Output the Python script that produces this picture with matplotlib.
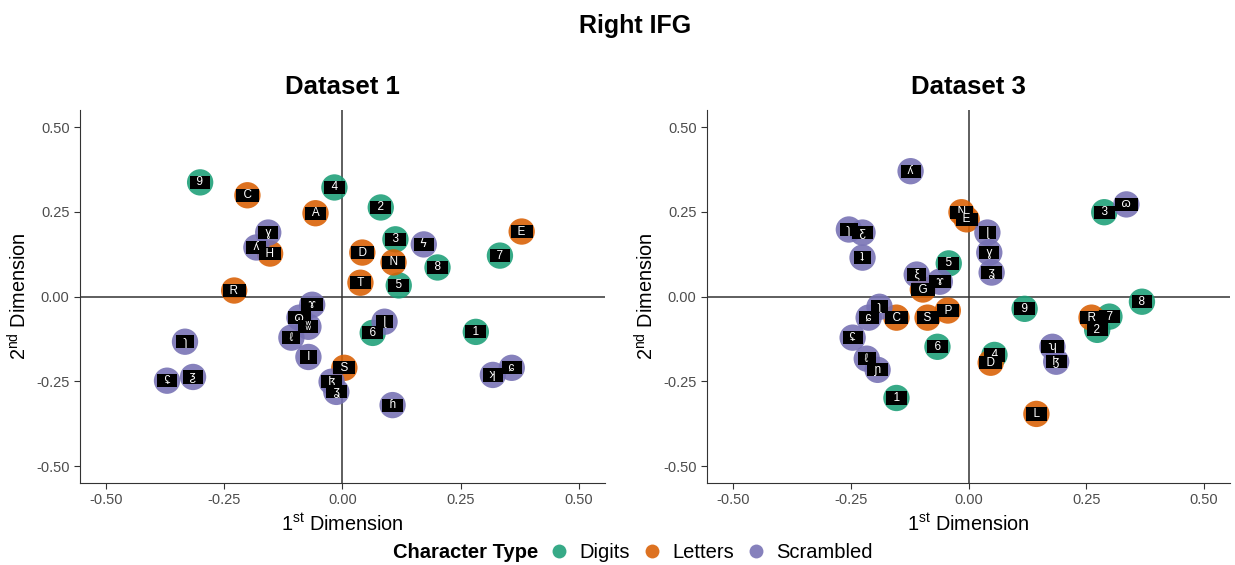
import matplotlib
matplotlib.use('Agg')
import matplotlib.pyplot as plt
from matplotlib.lines import Line2D

plt.rcParams['font.family'] = ['Liberation Sans', 'DejaVu Sans']
plt.rcParams['mathtext.fontset'] = 'custom'
plt.rcParams['mathtext.rm'] = 'Liberation Sans'

####################################################################################################
# data
####################################################################################################
d1_x = [-0.301, -0.017, 0.081, 0.112, 0.201, 0.333, 0.119, 0.064, 0.282,
        -0.201, -0.057, -0.153, -0.229, 0.042, 0.108, 0.038, 0.379, 0.004,
        -0.157, -0.182, 0.172, -0.064, -0.091, -0.072, -0.108, -0.072, -0.333,
        -0.371, -0.316, -0.023, -0.013, 0.089, 0.318, 0.358, 0.106]
d1_y = [0.337, 0.322, 0.263, 0.169, 0.086, 0.121, 0.033, -0.107, -0.104,
        0.299, 0.246, 0.127, 0.018, 0.130, 0.101, 0.041, 0.192, -0.210,
        0.189, 0.145, 0.154, -0.024, -0.062, -0.089, -0.121, -0.178, -0.133,
        -0.248, -0.237, -0.251, -0.281, -0.074, -0.231, -0.210, -0.320]
d1_type = ['Digits'] * 9 + ['Letters'] * 9 + ['Scrambled'] * 17
d1_lab = ['9', '4', '2', '3', '8', '7', '5', '6', '1',
          'C', 'A', 'H', 'R', 'D', 'N', 'T', 'E', 'S',
          'ɣ', 'ʎ', 'ϟ', 'ɤ', 'ɷ', 'ʬ', 'ℓ', 'Ɩ', 'ɿ',
          'ʢ', 'ƺ', 'ɮ', 'ʓ', 'ɭ', 'ʞ', 'ɕ', 'ɦ']

d3_x = [-0.042, 0.288, 0.368, -0.066, -0.153, 0.119, 0.299, 0.273, 0.055,
        -0.015, -0.004, -0.097, -0.153, -0.087, -0.044, 0.261, 0.047, 0.144,
        -0.123, -0.254, -0.225, -0.225, -0.110, -0.061, 0.040, 0.044, 0.049,
        0.335, -0.189, -0.212, -0.246, -0.216, -0.193, 0.178, 0.186]
d3_y = [0.098, 0.249, -0.015, -0.148, -0.299, -0.036, -0.059, -0.098, -0.172,
        0.249, 0.228, 0.021, -0.062, -0.062, -0.041, -0.062, -0.195, -0.346,
        0.370, 0.198, 0.189, 0.115, 0.065, 0.044, 0.189, 0.130, 0.071,
        0.272, -0.030, -0.062, -0.121, -0.183, -0.216, -0.148, -0.192]
d3_type = ['Digits'] * 9 + ['Letters'] * 9 + ['Scrambled'] * 17
d3_lab = ['5', '3', '8', '6', '1', '9', '7', '2', '4',
          'N', 'E', 'G', 'C', 'S', 'P', 'R', 'D', 'L',
          'ʎ', 'ɿ', 'ƹ', 'ʇ', 'ξ', 'ɤ', 'ɭ', 'ɣ', 'ʓ',
          'ɷ', 'ʅ', 'ɕ', 'ʢ', 'ℓ', 'ɲ', 'ʮ', 'ɮ']

colours = {'Digits': '#1B9E77', 'Letters': '#D95F02', 'Scrambled': '#7570B3'}

####################################################################################################
# plot
####################################################################################################
fig = plt.figure(figsize=(12.35, 5.65), dpi=100)
ax1 = fig.add_axes([0.0648, 0.145, 0.425, 0.660])
ax2 = fig.add_axes([0.5725, 0.145, 0.4235, 0.660])

panels = [(ax1, d1_x, d1_y, d1_type, d1_lab, 'Dataset 1'),
          (ax2, d3_x, d3_y, d3_type, d3_lab, 'Dataset 3')]

for ax, xs, ys, types, labs, title in panels:
    ax.axhline(0, color='#333333', lw=1.1, zorder=1)
    ax.axvline(0, color='#333333', lw=1.1, zorder=1)
    ax.scatter(xs, ys, s=360, c=[colours[t] for t in types], alpha=0.88,
               edgecolors='none', zorder=2)
    for x, y, lab in zip(xs, ys, labs):
        ax.text(x, y, '  ' + lab + '  ', color='white', fontsize=8.5, ha='center', va='center',
                family=['Liberation Sans', 'DejaVu Sans'], zorder=3,
                bbox=dict(boxstyle='square,pad=0.05', fc='black', ec='none'))
    ax.set_xlim(-0.555, 0.555)
    ax.set_ylim(-0.55, 0.55)
    ticks = [-0.5, -0.25, 0, 0.25, 0.5]
    ax.set_xticks(ticks)
    ax.set_yticks(ticks)
    ax.set_xticklabels(['-0.50', '-0.25', '0.00', '0.25', '0.50'])
    ax.set_yticklabels(['-0.50', '-0.25', '0.00', '0.25', '0.50'])
    ax.tick_params(labelsize=10.5, labelcolor='#4d4d4d', color='#333333', length=4)
    for side in ['top', 'right']:
        ax.spines[side].set_visible(False)
    for side in ['left', 'bottom']:
        ax.spines[side].set_color('#333333')
    ax.set_title(title, fontsize=18.5, fontweight='bold', pad=12)
    ax.set_xlabel(r'1$^{\mathrm{st}}$ Dimension', fontsize=14.3)
    ax.set_ylabel(r'2$^{\mathrm{nd}}$ Dimension', fontsize=14.3)

fig.suptitle('Right IFG', fontsize=18, fontweight='bold', x=0.514, y=0.975)

handles = [Line2D([], [], marker='o', ls='none', markersize=10, color=colours[k], alpha=0.88,
                  markeredgecolor='none', label=k) for k in colours]
fig.text(0.4356, 0.022, 'Character Type', fontsize=14.5, fontweight='bold', ha='right', va='center')
fig.legend(handles=handles, loc='center left', bbox_to_anchor=(0.430, 0.022), ncol=3,
           frameon=False, fontsize=14.5, handlelength=1.0, handletextpad=0.5,
           columnspacing=0.6)

fig.savefig('out.png', dpi=100)
plt.close()
